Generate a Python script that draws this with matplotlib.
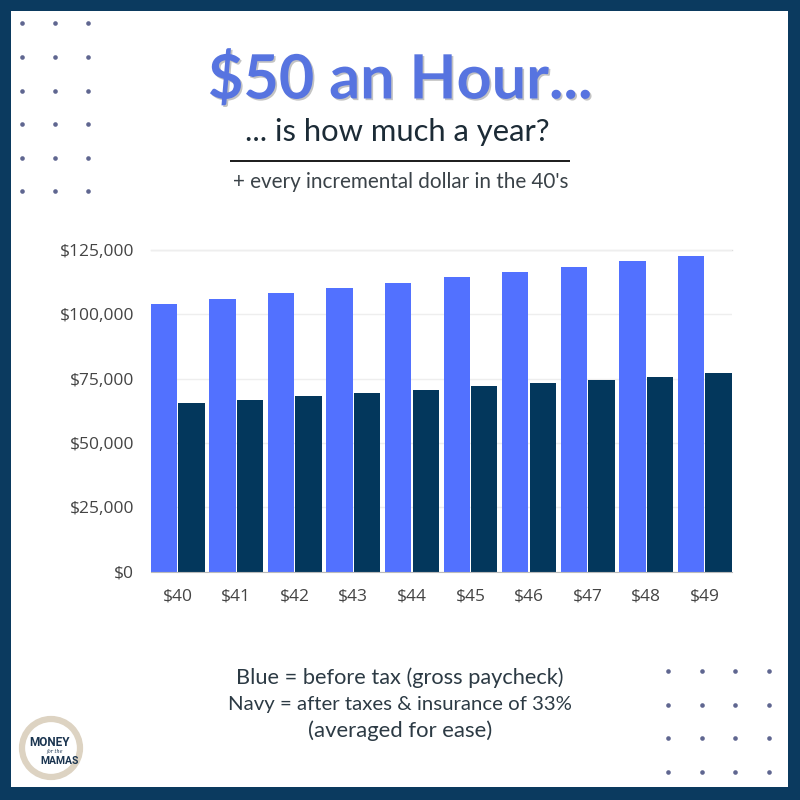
import matplotlib
matplotlib.use("Agg")
import matplotlib.pyplot as plt
import matplotlib.patheffects as pe
from matplotlib.patches import Rectangle, Circle
from matplotlib.ticker import FuncFormatter
import numpy as np

# ---- data ----
categories = ["$40", "$41", "$42", "$43", "$44", "$45", "$46", "$47", "$48", "$49"]
gross = [104000, 106080, 108160, 110240, 112320, 114400, 116480, 118560, 120640, 122720]
net = [65400, 66700, 68100, 69300, 70600, 72000, 73200, 74500, 75800, 77100]
y_ticks = [0, 25000, 50000, 75000, 100000, 125000]

BLUE = "#5271FF"
NAVY = "#03375C"
BORDER = "#0B3A5F"
TITLE_BLUE = "#5774E0"
DOT = "#5F6690"

fig = plt.figure(figsize=(8, 8), dpi=100, facecolor=BORDER)

# background / decoration axes in pixel coordinates
bg = fig.add_axes([0, 0, 1, 1])
bg.set_xlim(0, 800)
bg.set_ylim(800, 0)
bg.axis("off")
bg.add_patch(Rectangle((11, 11), 777, 776, facecolor="white", edgecolor="none"))

dx_tl = [22, 55, 88]
dy_tl = [23, 57, 91, 124, 158, 191]
X, Y = np.meshgrid(dx_tl, dy_tl)
bg.scatter(X.ravel(), Y.ravel(), s=11, color=DOT, linewidths=0)
dx_br = [668, 702, 735, 769]
dy_br = [671, 705, 738, 772]
X, Y = np.meshgrid(dx_br, dy_br)
bg.scatter(X.ravel(), Y.ravel(), s=11, color=DOT, linewidths=0)

# logo
bg.add_patch(Circle((51, 748), 29, facecolor="white", edgecolor="#DDD3C2", lw=4.5))
bg.text(50, 743, "MONEY", ha="center", va="center", fontsize=8.5, fontweight="bold",
        color="#1B3550", family="Roboto")
bg.text(55, 752, "for the", ha="center", va="center", fontsize=3.5, style="italic",
        color="#1B3550", family="DejaVu Serif")
bg.text(60, 761, "MAMAS", ha="center", va="center", fontsize=7.5, fontweight="bold",
        color="#1B3550", family="Roboto")

# titles
t1 = fig.text(0.5 * (208 + 592) / 800, 1 - 98.5 / 800, "$50 an Hour...", ha="center",
              va="baseline", fontsize=36, fontweight="bold", color=TITLE_BLUE, family="Lato",
              path_effects=[pe.SimplePatchShadow(offset=(1.2, -1.2), shadow_rgbFace="#555555", alpha=0.35),
                            pe.Normal()])
t2 = fig.text(0.5 * (245 + 550) / 800, 1 - 141 / 800, "... is how much a year?", ha="center",
              va="baseline", fontsize=22, color="#1C2B36", family="Lato")
t3 = fig.text(0.5 * (233 + 568) / 800, 1 - 188.5 / 800, "+ every incremental dollar in the 40's",
              ha="center", va="baseline", fontsize=13, color="#3A4248", family="Lato")
bg.plot([230, 570], [161, 161], color="#1A1A1A", lw=1.4, solid_capstyle="butt")

# bottom notes
notes = ["Blue = before tax (gross paycheck)",
         "Navy = after taxes & insurance of 33%",
         "(averaged for ease)"]
note_widths = [327, 344, 184]
note_y = [684, 710, 737]
note_objs = []
for s, y in zip(notes, note_y):
    note_objs.append(fig.text(0.5, 1 - y / 800, s, ha="center", va="baseline", fontsize=13,
                              color="#2C3A44", family="Lato"))

# fit text widths
fig.canvas.draw()
r = fig.canvas.get_renderer()
for t, w in [(t1, 384), (t2, 305), (t3, 335)] + list(zip(note_objs, note_widths)):
    bb = t.get_window_extent(r)
    t.set_fontsize(t.get_fontsize() * w / bb.width)

# chart
left, right = 150.7, 731.7
bottom_px, top_px = 571.7, 250
ax = fig.add_axes([left / 800, 1 - bottom_px / 800, (right - left) / 800, (bottom_px - top_px) / 800])
ax.set_facecolor("none")
x = np.arange(len(categories))
w = 0.45
ax.bar(x - 0.235, gross, width=w, color=BLUE, zorder=3)
ax.bar(x + 0.235, net, width=w, color=NAVY, zorder=3)
ax.set_xlim(-0.46, len(categories) - 1 + 0.46)
ax.set_ylim(0, 125000)
ax.set_yticks(y_ticks)
ax.yaxis.set_major_formatter(FuncFormatter(lambda v, p: "${:,.0f}".format(v)))
ax.set_xticks(x)
ax.set_xticklabels(categories)
for sp in ["top", "right", "left"]:
    ax.spines[sp].set_visible(False)
ax.spines["bottom"].set_color("#BBBBBB")
ax.spines["bottom"].set_zorder(4)
ax.grid(axis="y", color="#EEEEEE", lw=1, zorder=0)
ax.axhline(125000, color="#DDDDDD", lw=1, zorder=1, clip_on=False)
ax.tick_params(axis="both", length=0, labelcolor="#444444", labelsize=12.5)
ax.tick_params(axis="y", pad=12)
ax.tick_params(axis="x", pad=12)
for lab in ax.get_xticklabels() + ax.get_yticklabels():
    lab.set_family("Open Sans")

fig.savefig("out.png", dpi=100, facecolor=BORDER)
